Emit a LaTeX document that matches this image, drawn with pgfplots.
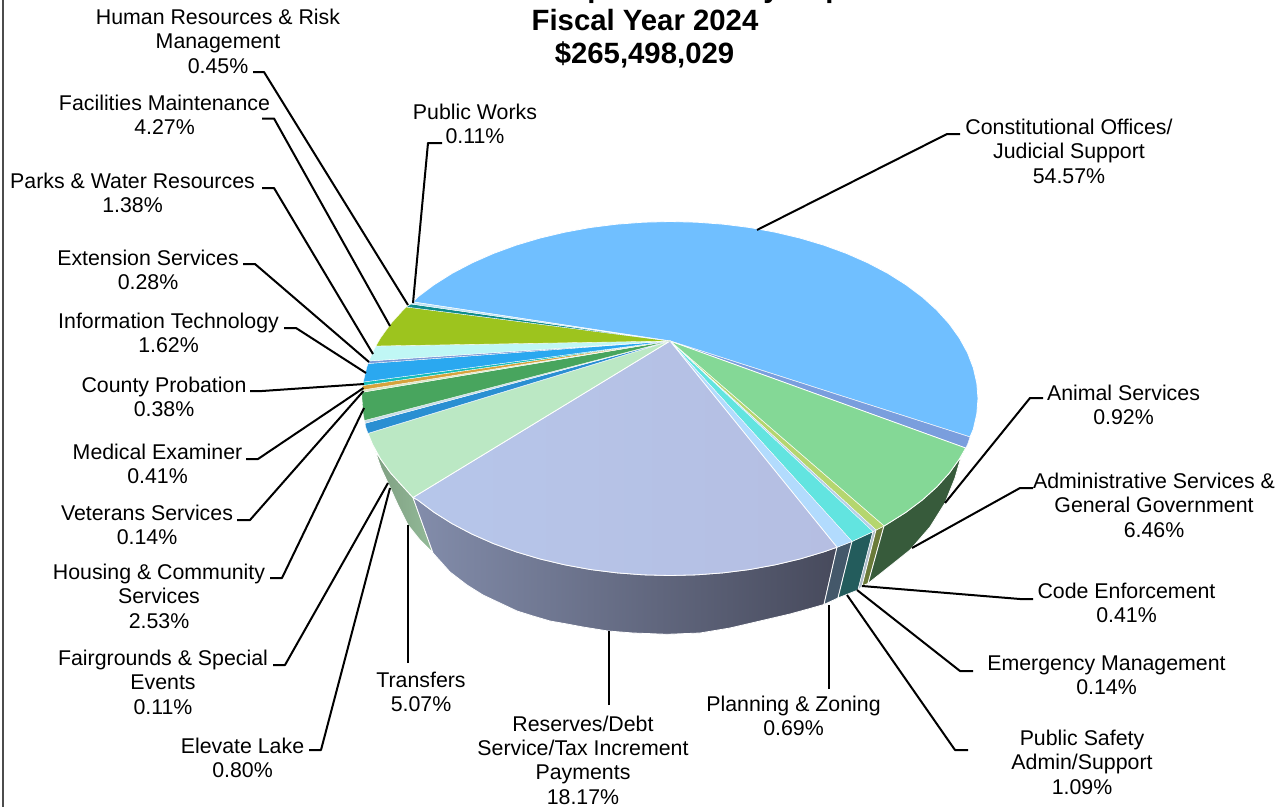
\documentclass[border=0pt]{standalone}
\usepackage{fontspec}
\setmainfont{Liberation Sans}
\usepackage{pgfplots}
\pgfplotsset{compat=1.18}

% Slice colours: top faces
\definecolor{cConst}{HTML}{70BFFF}
\definecolor{cAnimal}{HTML}{7A9EDD}
\definecolor{cAdmin}{HTML}{84D896}
\definecolor{cCode}{HTML}{B5D66F}
\definecolor{cEmerg}{HTML}{B7CFE8}
\definecolor{cSafety}{HTML}{62E4E0}
\definecolor{cPlan}{HTML}{B2DBFD}
\definecolor{cResL}{HTML}{B6C6EA}
\definecolor{cResR}{HTML}{B5BEE2}
\definecolor{cTrans}{HTML}{BBE8C4}
\definecolor{cElev}{HTML}{2A8FD2}
\definecolor{cFair}{HTML}{C9DDE8}
\definecolor{cHous}{HTML}{48A55E}
\definecolor{cVet}{HTML}{D9E8C8}
\definecolor{cMed}{HTML}{D6A33C}
\definecolor{cProb}{HTML}{12BDB8}
\definecolor{cIT}{HTML}{2AA8F0}
\definecolor{cExt}{HTML}{7D9BD8}
\definecolor{cParks}{HTML}{C0F7F5}
\definecolor{cFac}{HTML}{9DC41E}
\definecolor{cHR}{HTML}{0F8C8C}
\definecolor{cPW}{HTML}{BFE3F5}
% Slice colours: rim
\definecolor{sAdmin}{HTML}{375B3B}
\definecolor{sCode}{HTML}{6A7A3A}
\definecolor{sEmerg}{HTML}{AEBDC9}
\definecolor{sSafety}{HTML}{235C5C}
\definecolor{sPlan}{HTML}{44586A}
\definecolor{sResL}{HTML}{838DAB}
\definecolor{sResM}{HTML}{646A80}
\definecolor{sResR}{HTML}{474A5C}
\definecolor{sTransL}{HTML}{7F9F82}
\definecolor{sTransR}{HTML}{93BA98}

\tikzset{
  wedge/.style={draw=white, line width=.6pt, line join=round},
  thinwedge/.style={draw=white, line width=.25pt, line join=round},
  leader/.style={black, line width=1.5pt, line join=round, no markers},
  lab/.style={align=center, inner sep=0pt, text=black, font=\fontsize{16}{18.3}\selectfont},
  ttl/.style={anchor=base, inner sep=0pt, text=black, font=\fontsize{22}{26}\selectfont\bfseries},
}

\begin{document}
\begin{tikzpicture}
\useasboundingbox (0,0) rectangle (964.5pt,605.25pt);
\clip (0,0) rectangle (964.5pt,605.25pt);
\begin{axis}[
  at={(0,0)}, anchor=south west,
  scale only axis, width=964.5pt, height=605.25pt,
  xmin=0, xmax=1286, ymin=0, ymax=807, y dir=reverse,
  axis lines=none, clip=false,
]
% Frame edge on the left
\addplot[color=black!70, line width=1.1pt, no markers] coordinates {(3,0) (3,807)};

% Rim of the pie
\addplot[wedge, left color=sTransL, right color=sTransR] coordinates {
 (375.3,451) (380.6,459) (390.9,473.3) (403.3,487) (413,497.5) (433,553) (420,540) (408,525) (398,505) (388,483) (381,468)} -- cycle;
\addplot[wedge, left color=sResL, middle color=sResM, right color=sResR] coordinates {
 (413,497.5) (417.7,500) (434.1,512.3) (452.2,523.7) (472,534.1) (493.3,543.5) (516,551.8) (539.8,558.9) (564.7,564.8) (590.3,569.5) (616.5,572.8) (643.1,574.8) (670,575.5) (696.9,574.8) (723.5,572.8) (749.7,569.5) (775.3,564.8) (800.2,558.9) (824,551.8) (837,547.2)
 (824,604.5) (810,608.5) (790,614) (760,621) (730,628) (700,633) (667,634.3) (633,633) (608,631) (583,627) (567,624) (550,621) (533,616) (517,611) (500,603) (483,595) (467,585) (450,572) (433,553)} -- cycle;
\addplot[wedge, fill=sPlan] coordinates {(837,547.2) (852,541.4) (838,598) (824,604.5)} -- cycle;
\addplot[wedge, fill=sSafety] coordinates {(852,541.4) (873,531.6) (858,590) (838,598)} -- cycle;
\addplot[thinwedge, fill=sEmerg] coordinates {(873,531.6) (876,530) (862,586) (858,590)} -- cycle;
\addplot[wedge, fill=sCode] coordinates {(876,530) (884,526) (868,583.5) (862,586)} -- cycle;
\addplot[wedge, fill=sAdmin] coordinates {
 (884,526) (887.8,523.7) (905.9,512.3) (922.3,500) (936.7,487) (949.1,473.3) (959.4,459) (965.7,448)
 (963,450) (955,478) (945,503) (930,527) (910,550) (890,566) (868,583.5)} -- cycle;

% Top face, clockwise from the largest slice
\addplot[wedge, fill=cConst] coordinates {
 (670,341) (413,302) (417.7,297) (434.1,284.7) (452.2,273.3) (472,262.9) (493.3,253.5) (516,245.2) (539.8,238.1) (564.7,232.2) (590.3,227.5) (616.5,224.2) (643.1,222.2) (670,221.5) (696.9,222.2) (723.5,224.2) (749.7,227.5) (775.3,232.2) (800.2,238.1) (824,245.2) (846.7,253.5) (868,262.9) (887.8,273.3) (905.9,284.7) (922.3,297) (936.7,310) (949.1,323.7) (959.4,338) (967.5,352.7) (973.3,367.8) (976.8,383.1) (978,398.5) (976.8,413.9) (973.3,429.2) (970,437)} -- cycle;
\addplot[thinwedge, fill=cAnimal] coordinates {(670,341) (970,437) (967.5,444.3) (965.7,448)} -- cycle;
\addplot[wedge, fill=cAdmin] coordinates {
 (670,341) (965.7,448) (959.4,459) (949.1,473.3) (936.7,487) (922.3,500) (905.9,512.3) (887.8,523.7) (884,526)} -- cycle;
\addplot[thinwedge, fill=cCode] coordinates {(670,341) (884,526) (876,530)} -- cycle;
\addplot[thinwedge, fill=cEmerg] coordinates {(670,341) (876,530) (873,531.6)} -- cycle;
\addplot[thinwedge, fill=cSafety] coordinates {(670,341) (873,531.6) (852,541.4)} -- cycle;
\addplot[thinwedge, fill=cPlan] coordinates {(670,341) (852,541.4) (837,547.2)} -- cycle;
\addplot[wedge, left color=cResL, right color=cResR] coordinates {
 (670,341) (837,547.2) (824,551.8) (800.2,558.9) (775.3,564.8) (749.7,569.5) (723.5,572.8) (696.9,574.8) (670,575.5) (643.1,574.8) (616.5,572.8) (590.3,569.5) (564.7,564.8) (539.8,558.9) (516,551.8) (493.3,543.5) (472,534.1) (452.2,523.7) (434.1,512.3) (417.7,500) (413,497.5)} -- cycle;
\addplot[wedge, fill=cTrans] coordinates {
 (670,341) (413,497.5) (403.3,487) (390.9,473.3) (380.6,459) (372.5,444.3) (368,433.3)} -- cycle;
\addplot[thinwedge, fill=cElev] coordinates {(670,341) (368,433.3) (366,428) (365,423.3)} -- cycle;
\addplot[thinwedge, fill=cFair] coordinates {(670,341) (365,423.3) (364.4,420.5)} -- cycle;
\addplot[thinwedge, fill=cHous] coordinates {(670,341) (364.4,420.5) (363.2,413.9) (362,398.5) (362.1,392.3)} -- cycle;
\addplot[thinwedge, fill=cVet] coordinates {(670,341) (362.1,392.3) (362.4,390)} -- cycle;
\addplot[thinwedge, fill=cMed] coordinates {(670,341) (362.4,390) (362.8,385.5)} -- cycle;
\addplot[thinwedge, fill=cProb] coordinates {(670,341) (362.8,385.5) (363.3,382)} -- cycle;
\addplot[thinwedge, fill=cIT] coordinates {(670,341) (363.3,382) (366.7,367.8) (368.1,363.5)} -- cycle;
\addplot[thinwedge, fill=cExt] coordinates {(670,341) (368.1,363.5) (369,361)} -- cycle;
\addplot[thinwedge, fill=cParks] coordinates {(670,341) (369,361) (372.5,352.7) (376,346)} -- cycle;
\addplot[thinwedge, fill=cFac] coordinates {(670,341) (376,346) (380.6,338) (390.9,323.7) (403.3,310) (406.4,307)} -- cycle;
\addplot[thinwedge, fill=cHR] coordinates {(670,341) (406.4,307) (411,304)} -- cycle;
\addplot[thinwedge, fill=cPW] coordinates {(670,341) (411,304) (413,302)} -- cycle;

% Leader lines
\addplot[leader] coordinates {(253,72) (264,72) (408,305)};
\addplot[leader] coordinates {(262,118.5) (274,118.5) (390,326)};
\addplot[leader] coordinates {(262,188) (274,188) (373,354)};
\addplot[leader] coordinates {(243,264) (255,264) (369,362)};
\addplot[leader] coordinates {(284,328) (296,328) (366,373)};
\addplot[leader] coordinates {(250,391) (262,391) (364,384)};
\addplot[leader] coordinates {(246,459) (258,459) (363.5,388)};
\addplot[leader] coordinates {(237,520) (250,520) (363.5,391)};
\addplot[leader] coordinates {(270,578) (282,578) (364,408)};
\addplot[leader] coordinates {(273,665) (285,665) (388,483)};
\addplot[leader] coordinates {(309,750) (321,750) (390,488)};
\addplot[leader] coordinates {(408,663) (408,525)};
\addplot[leader] coordinates {(609,705) (609,631)};
\addplot[leader] coordinates {(829,689) (829,605)};
\addplot[leader] coordinates {(968,750) (955,750) (847,595)};
\addplot[leader] coordinates {(973,671) (960,671) (857,590)};
\addplot[leader] coordinates {(1033,599) (1020,599) (862,586)};
\addplot[leader] coordinates {(1033,488) (1020,488) (912,548)};
\addplot[leader] coordinates {(1043,398) (1030,398) (945,503)};
\addplot[leader] coordinates {(960,134) (947,134) (757,230)};
\addplot[leader] coordinates {(442,143) (428,143) (413,303)};

% Title
\node[ttl] at (axis cs:652.5,-3) {General Fund Expenditures by Department};
\node[ttl] at (axis cs:645,30) {Fiscal Year 2024};
\node[ttl] at (axis cs:644.5,63) {\$265,498,029};

% Slice labels
\node[lab] at (axis cs:218,41) {Human Resources \& Risk\\Management\\0.45\%};
\node[lab] at (axis cs:164.5,115) {Facilities Maintenance\\4.27\%};
\node[lab] at (axis cs:132.5,193) {Parks \& Water Resources\\1.38\%};
\node[lab] at (axis cs:148,270) {Extension Services\\0.28\%};
\node[lab] at (axis cs:168.5,333) {Information Technology\\1.62\%};
\node[lab] at (axis cs:164,397) {County Probation\\0.38\%};
\node[lab] at (axis cs:157.5,464) {Medical Examiner\\0.41\%};
\node[lab] at (axis cs:147,525) {Veterans Services\\0.14\%};
\node[lab] at (axis cs:159,596) {Housing \& Community\\Services\\2.53\%};
\node[lab] at (axis cs:163,682) {Fairgrounds \& Special\\Events\\0.11\%};
\node[lab] at (axis cs:242.5,758) {Elevate Lake\\0.80\%};
\node[lab] at (axis cs:421,692) {Transfers\\5.07\%};
\node[lab] at (axis cs:583,760) {Reserves/Debt\\Service/Tax Increment\\Payments\\18.17\%};
\node[lab] at (axis cs:793.5,716) {Planning \& Zoning\\0.69\%};
\node[lab] at (axis cs:1082,762) {Public Safety\\Admin/Support\\1.09\%};
\node[lab] at (axis cs:1106.5,675) {Emergency Management\\0.14\%};
\node[lab] at (axis cs:1126.5,603) {Code Enforcement\\0.41\%};
\node[lab] at (axis cs:1154,505) {Administrative Services \&\\General Government\\6.46\%};
\node[lab] at (axis cs:1123.5,405) {Animal Services\\0.92\%};
\node[lab] at (axis cs:1069,151) {Constitutional Offices/\\Judicial Support\\54.57\%};
\node[lab] at (axis cs:475,124) {Public Works\\0.11\%};
\end{axis}
\end{tikzpicture}
\end{document}
